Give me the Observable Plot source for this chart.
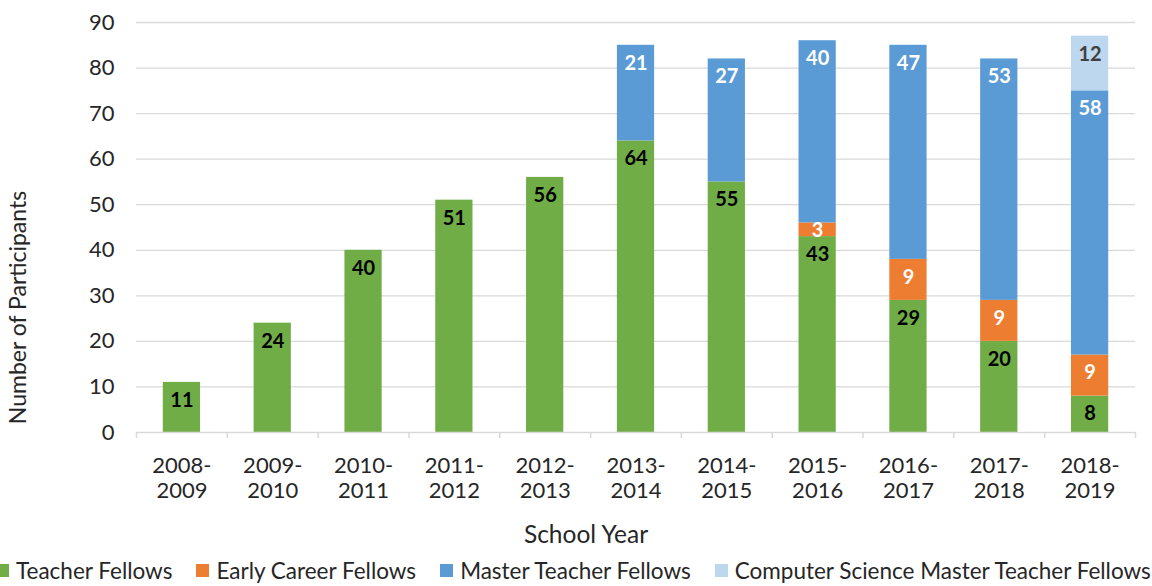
<!DOCTYPE html>
<html>
<head>
<meta charset="utf-8">
<script src="https://cdn.jsdelivr.net/npm/d3@7"></script>
<script src="https://cdn.jsdelivr.net/npm/@observablehq/plot@0.6"></script>
<style>
  html, body { margin: 0; padding: 0; background: #fff; overflow: hidden; width: 1152px; height: 586px; }
  #legend { display: flex; align-items: center; height: 36px; margin-left: -4px; font-family: Lato, sans-serif; font-size: 22.5px; color: #262626; white-space: nowrap; }
  #legend .item { display: flex; align-items: center; margin-right: 24px; }
  #legend .sw { width: 13px; height: 13px; margin-right: 7px; }
</style>
</head>
<body>
<div id="chart"></div>
<div id="legend"></div>
<script>
const years = ["2008-2009","2009-2010","2010-2011","2011-2012","2012-2013","2013-2014","2014-2015","2015-2016","2016-2017","2017-2018","2018-2019"];
const teacherFellows = [11,24,40,51,56,64,55,43,29,20,8];
const earlyCareerFellows = [0,0,0,0,0,0,0,3,9,9,9];
const masterTeacherFellows = [0,0,0,0,0,21,27,40,47,53,58];
const csMasterTeacherFellows = [0,0,0,0,0,0,0,0,0,0,12];
const seriesNames = ["Teacher Fellows","Early Career Fellows","Master Teacher Fellows","Computer Science Master Teacher Fellows"];
const seriesColors = ["#70AD47","#ED7D31","#5B9BD5","#BDD7EE"];
const labelColors = ["#000000","#ffffff","#ffffff","#404040"];
const yTicks = [0,10,20,30,40,50,60,70,80,90];

const seriesValues = [teacherFellows, earlyCareerFellows, masterTeacherFellows, csMasterTeacherFellows];
const rows = [];
seriesNames.forEach((s, i) => years.forEach((y, j) => {
  if (seriesValues[i][j] > 0) rows.push({series: s, year: y, value: seriesValues[i][j], si: i});
}));

const W = 1152, H = 552, mL = 136, mR = 17, mT = 22, mB = H - 432;
const step = (W - mL - mR) / years.length;

function labelMark(si, small) {
  const opts = {
    x: "year", y: "value", z: "series",
    text: d => (d.si === si && (small ? d.value < 5 : d.value >= 5)) ? String(d.value) : null,
    fill: labelColors[si], fontWeight: "bold", fontSize: 20, fontFamily: "Lato",
    dy: small ? 1 : 18
  };
  return Plot.text(rows, small ? Plot.stackY(opts) : Plot.stackY2(opts));
}

const plot = Plot.plot({
  width: W, height: H,
  marginLeft: mL, marginRight: mR, marginTop: mT, marginBottom: mB,
  style: {fontFamily: "Lato, sans-serif", fontSize: "22px", color: "#262626", background: "#fff"},
  x: {domain: years, paddingInner: 0.59, paddingOuter: 0.295, round: false, label: null},
  y: {domain: [0, 90], label: null},
  color: {domain: seriesNames, range: seriesColors},
  marks: [
    Plot.gridY(yTicks.filter(t => t > 0), {stroke: "#d9d9d9", strokeOpacity: 1, strokeWidth: 1.3}),
    Plot.barY(rows, Plot.stackY({x: "year", y: "value", fill: "series", z: "series"})),
    Plot.ruleY([0], {stroke: "#d9d9d9", strokeWidth: 1.5}),
    Plot.ruleX(years, {x: d => d, dx: -step / 2, insetTop: 432 - mT, insetBottom: -6, stroke: "#d9d9d9", strokeWidth: 1.5}),
    Plot.ruleX([years[years.length - 1]], {x: d => d, dx: step / 2, insetTop: 432 - mT, insetBottom: -6, stroke: "#d9d9d9", strokeWidth: 1.5}),
    labelMark(0, false), labelMark(1, false), labelMark(2, false), labelMark(3, false),
    labelMark(1, true),
    Plot.axisY({ticks: yTicks, tickSize: 0, tickPadding: 22, fontSize: 22, label: null}),
    Plot.axisX({tickSize: 0, tickPadding: 23, fontSize: 22, lineHeight: 1.12,
      tickFormat: d => d.replace("-", "-\n"), label: null}),
    Plot.text(["Number of Participants"], {text: d => d, frameAnchor: "left", textAnchor: "middle", rotate: -90, dx: -117.5, dy: 80, fontSize: 23}),
    Plot.text(["School Year"], {text: d => d, frameAnchor: "bottom", dx: -50, dy: 110, fontSize: 24.5})
  ]
});
document.getElementById("chart").appendChild(plot);

const legend = document.getElementById("legend");
seriesNames.forEach((s, i) => {
  const item = document.createElement("div");
  item.className = "item";
  const sw = document.createElement("div");
  sw.className = "sw";
  sw.style.background = seriesColors[i];
  const t = document.createElement("span");
  t.textContent = s;
  item.appendChild(sw); item.appendChild(t);
  legend.appendChild(item);
});
</script>
</body>
</html>
